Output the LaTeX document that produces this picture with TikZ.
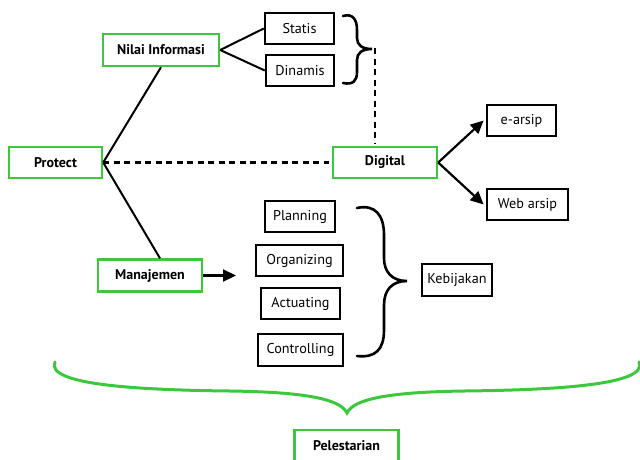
\documentclass[tikz,border=0pt]{standalone}
\usepackage{fontspec}
\setmainfont{PT Sans}
\usetikzlibrary{arrows.meta}
\definecolor{grn}{RGB}{60,200,60}
\begin{document}
\begin{tikzpicture}[x=1pt,y=-1pt,
  box/.style={draw=black,line width=2.4pt,minimum height=31pt,inner sep=0pt,font=\fontsize{14.2}{16}\selectfont},
  gbox/.style={draw=grn,line width=2.4pt,minimum height=32pt,inner sep=0pt,font=\bfseries\fontsize{14}{16}\selectfont},
  conn/.style={line width=2pt},
  dashline/.style={line width=2.4pt,dash pattern=on 6pt off 4.5pt},
  arr/.style={line width=2.2pt,-{Triangle[length=13pt,width=12pt]}},
  brc/.style={line width=2.6pt,line cap=round}]
\useasboundingbox[fill=white] (0,0) rectangle (640,459);
% nodes
\node[gbox,minimum width=116pt] (nilai) at (161,50) {Nilai Informasi};
\node[box,minimum width=69pt] (statis) at (299.5,28.5) {Statis};
\node[box,minimum width=68pt] (dinamis) at (300,70.5) {Dinamis};
\node[gbox,minimum width=93pt,minimum height=31pt] (protect) at (55.5,162.5) {Protect};
\node[gbox,minimum width=104pt,minimum height=31pt] (digital) at (385,162.5) {Digital};
\node[box,minimum width=69pt] (earsip) at (521.5,120.5) {e-arsip};
\node[box,minimum width=81pt] (webarsip) at (527.5,204.5) {Web arsip};
\node[gbox,minimum width=104pt] (manajemen) at (150,275.5) {Manajemen};
\node[box,minimum width=70pt] (planning) at (300,216.5) {Planning};
\node[box,minimum width=87pt] (organizing) at (299.5,260.5) {Organizing};
\node[box,minimum width=79pt] (actuating) at (300.5,303.5) {Actuating};
\node[box,minimum width=85pt,minimum height=32pt] (controlling) at (300.5,350) {Controlling};
\node[box,minimum width=70pt,minimum height=32pt] (kebijakan) at (457,280) {Kebijakan};
\node[gbox,minimum width=104pt] (pelestarian) at (346.5,446) {Pelestarian};
\coordinate (tip1) at (375,48);
\coordinate (manend) at (236,275.5);
% connectors
\draw[conn] (protect.east) -- (nilai.south);
\draw[conn] (protect.east) -- ([xshift=10pt]manajemen.north);
\draw[conn] (nilai.east) -- (statis.west);
\draw[conn] (nilai.east) -- (dinamis.west);
\draw[dashline,shorten >=3pt] (protect.east) -- (digital.west);
\draw[dashline,shorten >=3pt] (tip1) -- ([xshift=-10pt]digital.north);
\draw[arr,shorten >=3pt] (digital.east) -- ([yshift=2pt]earsip.west);
\draw[arr,shorten >=3pt] (digital.east) -- ([yshift=-2pt]webarsip.west);
\draw[arr] (manajemen.east) -- (manend);
% braces
\draw[brc] (343,16) .. controls (353,13) and (357,20) .. (357,30) -- (357,38)
  .. controls (357,45) and (362,49) .. (372,49)
  .. controls (362,49) and (357,53) .. (357,60) -- (357,72)
  .. controls (357,81) and (353,85) .. (343,83);
\draw[brc] (357,208) .. controls (375,204) and (384,215) .. (384,235) -- (384,258)
  .. controls (384,272) and (392,281) .. (407,281)
  .. controls (392,281) and (384,290) .. (384,305) -- (384,330)
  .. controls (384,350) and (375,358) .. (357,356);
\draw[brc,draw=grn,line width=3pt] (55,362) .. controls (45,385) and (140,390) .. (230,391)
  .. controls (300,392) and (340,398) .. (347,413)
  .. controls (354,398) and (394,392) .. (464,391)
  .. controls (554,390) and (649,385) .. (639,362);
\end{tikzpicture}
\end{document}
